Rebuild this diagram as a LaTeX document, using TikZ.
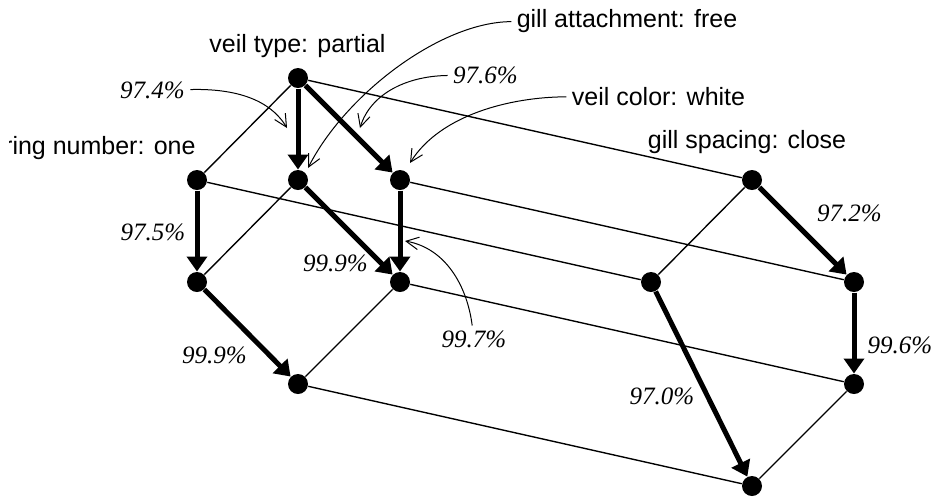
\documentclass[tikz,border=0pt]{standalone}
\usepackage{fontspec}
\setmainfont{Liberation Serif}
\setsansfont{Liberation Sans}
\usetikzlibrary{arrows.meta}
\tikzset{
  dot/.style={circle,fill,inner sep=0pt,minimum size=8pt},
  link/.style={line width=0.55pt},
  best/.style={line width=2pt,-{Triangle[length=6pt,width=8pt]}},
  note/.style={line width=0.4pt,-{Straight Barb[length=5pt,width=5pt]}},
  attr/.style={font=\sffamily\fontsize{10}{12}\selectfont,inner sep=2pt},
  pct/.style={font=\itshape\fontsize{10}{12}\selectfont,inner sep=2pt}
}
\begin{document}
\begin{tikzpicture}[x=0.4pt,y=0.4pt]
\useasboundingbox (0,0) rectangle (935,-496);
% lattice points
\foreach \n/\x/\y in {A/298/78,B/197/180,C/298/180,D/400/180,E/197/282,F/400/282,G/298/384,
  H/752/180,I/651/282,J/854/282,K/854/384,L/752/486} {
  \node[dot] (\n) at (\x,-\y) {};
}
% thin links
\foreach \a/\b in {A/B,C/E,F/G,H/I,K/L,A/H,B/I,D/J,F/K,G/L} {
  \draw[link] (\a) -- (\b);
}
% thick arrows
\foreach \a/\b in {A/C,A/D,B/E,C/F,D/F,E/G,H/J,J/K,I/L} {
  \draw[best] (\a) -- (\b);
}
% attribute labels
\node[attr] (vtype) at (297.5,-46) {veil type: partial};
\begin{scope}
  \clip (9,-125) rectangle (205,-170);
  \node[attr,anchor=east,inner sep=0pt] (ring) at (196,-148) {ring number: one};
\end{scope}
\node[attr] (gatt) at (627,-21) {gill attachment: free};
\node[attr] (vcol) at (658.5,-96.5) {veil color: white};
\node[attr] (gsp) at (747,-142.5) {gill spacing: close};
% percentages
\node[pct] (p974) at (152.5,-90.5) {97.4\%};
\node[pct] (p976) at (485.5,-75) {97.6\%};
\node[pct] (p975) at (153,-232.5) {97.5\%};
\node[pct] (p999a) at (335.5,-263) {99.9\%};
\node[pct] (p999b) at (214.5,-355) {99.9\%};
\node[pct] (p997) at (474,-339.5) {99.7\%};
\node[pct] (p972) at (849.5,-213) {97.2\%};
\node[pct] (p996) at (900,-345.5) {99.6\%};
\node[pct] (p970) at (662,-396) {97.0\%};
% pointers
\coordinate (t974) at (287,-128);
\coordinate (t976) at (360,-128);
\coordinate (tgatt) at (308,-168);
\coordinate (tvcol) at (410,-163);
\coordinate (t997) at (405,-241);
\draw[note] (p974) .. controls (250,-88) and (275,-108) .. (t974);
\draw[note] (p976) .. controls (405,-76) and (370,-95) .. (t976);
\draw[note] (gatt) .. controls (440,-22) and (345,-95) .. (tgatt);
\draw[note] (vcol) .. controls (510,-97) and (440,-115) .. (tvcol);
\draw[note] (p997) .. controls (467,-285) and (445,-248) .. (t997);
\end{tikzpicture}
\end{document}
